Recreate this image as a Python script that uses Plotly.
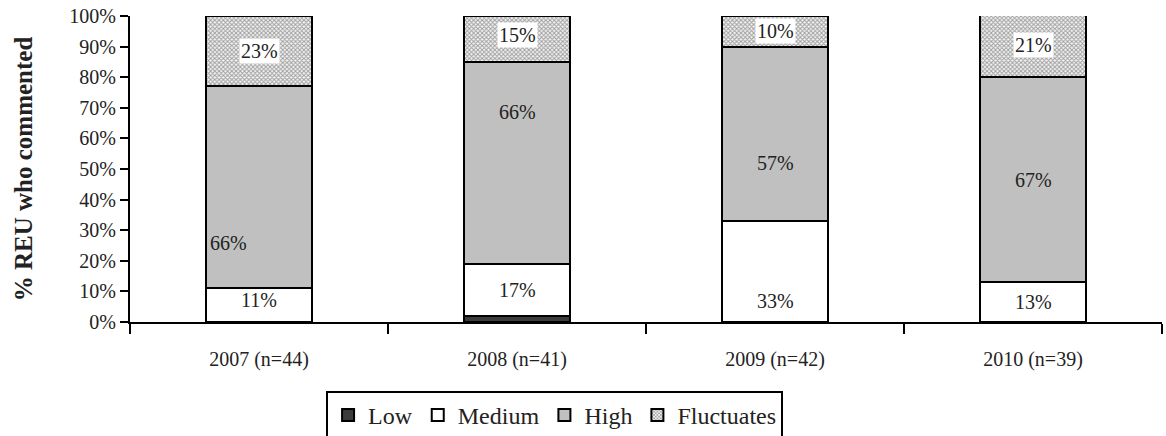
import plotly.graph_objects as go

# Share of REU respondents per rating, by survey year (percent)
years = ["2007 (n=44)", "2008 (n=41)", "2009 (n=42)", "2010 (n=39)"]
low = [0, 2, 0, 0]
medium = [11, 17, 33, 13]
high = [66, 66, 57, 67]
fluctuates = [23, 15, 10, 21]

SERIF = "Liberation Serif, Times New Roman, serif"
INK = "#222222"

series = [
    ("Low", low, dict(color="#3c3c3c")),
    ("Medium", medium, dict(color="#ffffff")),
    ("High", high, dict(color="#c0c0c0")),
    ("Fluctuates", fluctuates,
     dict(color="#ffffff",
          pattern=dict(shape="x", size=3, solidity=0.55,
                       fgcolor="#4a4a4a", bgcolor="#f4f4f4"))),
]

fig = go.Figure()
for name, vals, mk in series:
    fig.add_trace(go.Bar(
        name=name,
        x=years,
        y=[v / 100 if v else None for v in vals],
        marker=dict(line=dict(color="#000000", width=2), **mk),
        cliponaxis=False,
    ))

# Value labels centred on each segment, a few nudged aside
nudges = {
    ("High", 0): (-31, -56),
    ("High", 1): (0, 51),
    ("High", 2): (0, -29),
    ("Medium", 2): (0, -29),
    ("Medium", 0): (0, 5),
    ("Fluctuates", 1): (0, 4),
}
annotations = []
base = [0.0] * len(years)
for name, vals, _ in series:
    for i, v in enumerate(vals):
        if v and name != "Low":
            dx, dy = nudges.get((name, i), (0, 0))
            ann = dict(
                x=years[i], y=(base[i] + v / 2) / 100,
                xref="x", yref="y", text=f"{v}%", showarrow=False,
                font=dict(family=SERIF, size=20, color=INK),
                xshift=dx, yshift=dy,
            )
            if name == "Fluctuates":
                ann.update(bgcolor="#ffffff", borderpad=1)
            annotations.append(ann)
        base[i] += v

fig.update_layout(
    width=1166, height=436,
    margin=dict(l=130, r=4, t=16, b=114, autoexpand=False),
    paper_bgcolor="#ffffff", plot_bgcolor="#ffffff",
    barmode="stack", bargap=0.59,
    showlegend=True,
    legend=dict(
        orientation="h", x=0.19, y=-0.225, xanchor="left", yanchor="top",
        bordercolor="#000000", borderwidth=2, bgcolor="#ffffff",
        font=dict(family=SERIF, size=24, color=INK),
        traceorder="normal", itemclick=False,
    ),
    annotations=annotations,
    font=dict(family=SERIF, color=INK),
)

fig.update_xaxes(
    type="category", showline=True, linecolor="#000000", linewidth=2,
    ticks="outside", tickson="boundaries", ticklen=10, tickwidth=2,
    tickcolor="#000000", ticklabelstandoff=18,
    tickfont=dict(family=SERIF, size=20, color=INK),
    showgrid=False, zeroline=False,
)
fig.update_yaxes(
    range=[0, 1], dtick=0.1, tickformat=".0%",
    showline=True, linecolor="#000000", linewidth=2,
    ticks="outside", ticklen=8, tickwidth=2, tickcolor="#000000",
    tickfont=dict(family=SERIF, size=20, color=INK),
    showgrid=False, zeroline=False,
    title=dict(text="<b>% REU who commented</b>", standoff=30,
               font=dict(family=SERIF, size=25, color=INK)),
)

fig.write_html("out.html")
